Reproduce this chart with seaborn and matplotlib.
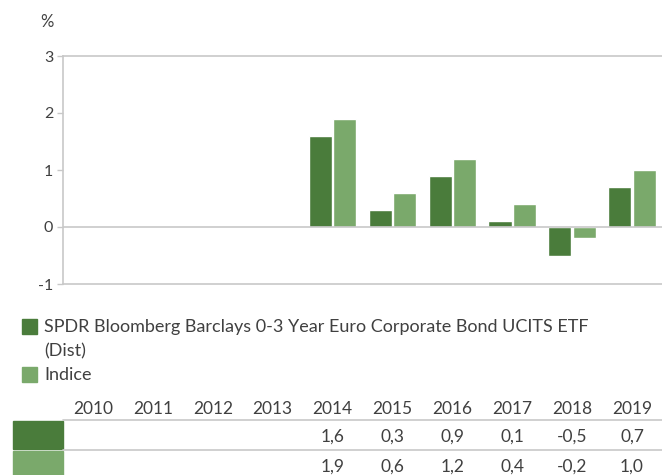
import numpy as np
import pandas as pd
import matplotlib
matplotlib.use("Agg")
import matplotlib.pyplot as plt
import seaborn as sns

# --- DADOS ---
years = ["2010", "2011", "2012", "2013", "2014", "2015", "2016", "2017", "2018", "2019"]
fund_values = [np.nan, np.nan, np.nan, np.nan, 1.6, 0.3, 0.9, 0.1, -0.5, 0.7]
index_values = [np.nan, np.nan, np.nan, np.nan, 1.9, 0.6, 1.2, 0.4, -0.2, 1.0]
fund_name = "SPDR Bloomberg Barclays 0-3 Year Euro Corporate Bond UCITS ETF\n(Dist)"
index_name = "Indice"

dark_green = "#4a7c3b"
light_green = "#7aa96b"
text_color = "#404040"
grid_color = "#c8c8c8"

sns.set_style("white")
plt.rcParams["font.family"] = ["Lato", "DejaVu Sans"]
plt.rcParams["axes.unicode_minus"] = False

df = pd.DataFrame({
    "year": years * 2,
    "value": fund_values + index_values,
    "serie": [fund_name] * len(years) + [index_name] * len(years),
})

fig = plt.figure(figsize=(6.62, 4.75), dpi=100)
W, H = 662, 475
ax = fig.add_axes([63 / W, 1 - 284 / H, 599 / W, 228 / H])

sns.barplot(data=df, x="year", y="value", hue="serie", order=years,
            palette=[dark_green, light_green], width=0.82, gap=0.06,
            saturation=1, legend=False, ax=ax)

ax.set_ylim(-1, 3)
ax.set_yticks([-1, 0, 1, 2, 3])
ax.set_xlim(-0.5, len(years) - 0.5)
ax.set_xticks([])
ax.set_xlabel("")
ax.set_ylabel("")
ax.axhline(0, color=grid_color, lw=1.2, zorder=3)
for side in ["top", "bottom", "left"]:
    ax.spines[side].set_color(grid_color)
    ax.spines[side].set_linewidth(1.2)
ax.spines["right"].set_visible(False)
ax.tick_params(axis="y", length=4, width=1, color=grid_color, labelcolor=text_color,
               labelsize=11.5, pad=3, left=True)

fig.text(40 / W, 1 - 22 / H, "%", color=text_color, fontsize=12, va="center")

# --- LEGENDA ---
legend_items = [(dark_green, 326), (light_green, 374)]
for color, y in legend_items:
    fig.patches.append(plt.Rectangle((22 / W, 1 - (y + 8) / H), 15 / W, 15 / H,
                                     transform=fig.transFigure, color=color))
for i, line in enumerate(fund_name.split("\n")):
    fig.text(44 / W, 1 - (327 + 24 * i) / H, line, color=text_color, fontsize=13, va="center")
fig.text(44 / W, 1 - 375 / H, index_name, color=text_color, fontsize=13, va="center")

# --- TABELA ---
centers = [63 + (i + 0.5) * 599 / len(years) for i in range(len(years))]
for x, y in zip(centers, years):
    fig.text(x / W, 1 - 409 / H, y, color=text_color, fontsize=12.5, ha="center", va="center")

row_tops = [421, 451]
for top, color, vals in zip(row_tops, [dark_green, light_green], [fund_values, index_values]):
    fig.patches.append(plt.Rectangle((13 / W, 1 - (top + 28) / H), 50 / W, 28 / H,
                                     transform=fig.transFigure, color=color))
    fig.add_artist(plt.Line2D([63 / W, 1], [1 - (top - 1) / H] * 2, color=grid_color, lw=1.2))
    for x, v in zip(centers, vals):
        if not np.isnan(v):
            txt = f"{v:.1f}".replace(".", ",")
            fig.text(x / W, 1 - (top + 16) / H, txt, color=text_color,
                     fontsize=12.5, ha="center", va="center")

fig.savefig("out.png", dpi=100)
